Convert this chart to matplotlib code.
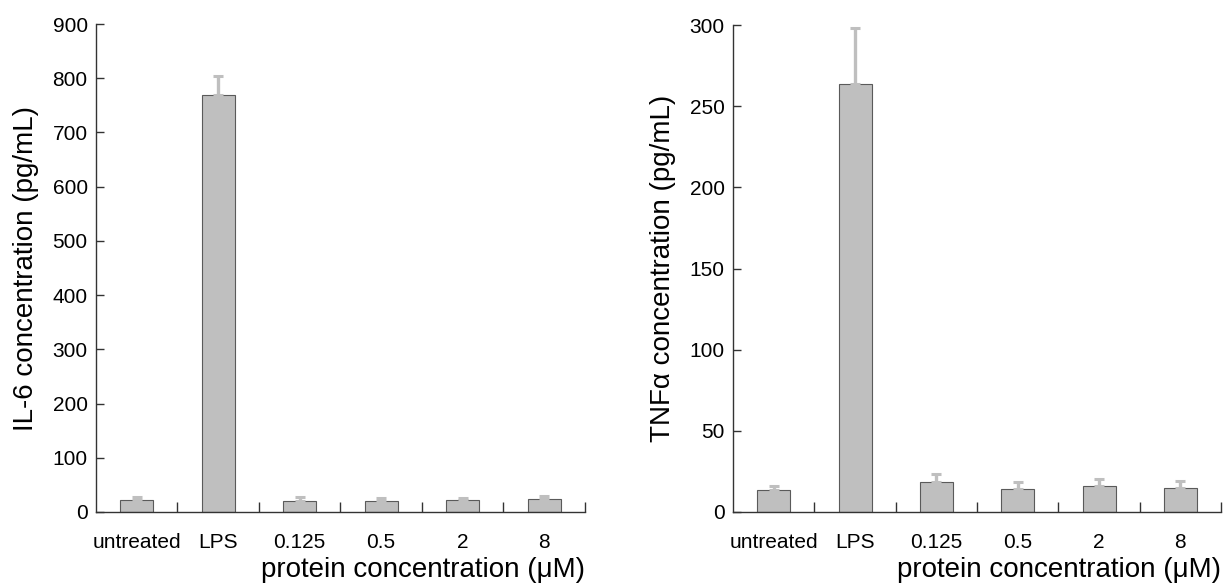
import matplotlib
matplotlib.use("Agg")
import matplotlib.pyplot as plt
import numpy as np

plt.rcParams['font.family'] = ['Liberation Sans', 'DejaVu Sans']

categories = ["untreated", "LPS", "0.125", "0.5", "2", "8"]
il6_values = [23, 770, 20, 20, 21.5, 24]
il6_err = [4.5, 35, 7, 5, 4.5, 6]
tnf_values = [13.8, 263.5, 18.3, 14.4, 16.3, 15]
tnf_err = [2.3, 35, 5.1, 4.3, 3.8, 4.1]

il6_yticks = [0, 100, 200, 300, 400, 500, 600, 700, 800, 900]
tnf_yticks = [0, 50, 100, 150, 200, 250, 300]

bar_color = "#bfbfbf"
edge_color = "#5a5a5a"
axis_color = "#333333"

fig = plt.figure(figsize=(12.26, 5.83), dpi=100)
ax1 = fig.add_axes([0.0783, 0.1218, 0.477 - 0.0783, 0.9588 - 0.1218])
ax2 = fig.add_axes([0.598, 0.1218, 0.996 - 0.598, 0.957 - 0.1218])

def draw(ax, vals, errs, yticks, ylabel):
    x = np.arange(len(categories))
    ax.bar(x, vals, width=0.405, color=bar_color, edgecolor=edge_color,
           linewidth=0.8, zorder=2)
    ax.errorbar(x, vals, yerr=[np.zeros(len(vals)), errs], fmt='none',
                ecolor=bar_color, elinewidth=2.4, capsize=3.3, capthick=2.2,
                zorder=3)
    ax.set_xlim(-0.5, len(categories) - 0.5)
    ax.set_ylim(yticks[0], yticks[-1])
    ax.set_yticks(yticks)
    ax.set_xticks(x)
    ax.set_xticklabels(categories)
    ax.set_xticks(np.arange(0.5, len(categories), 1.0), minor=True)
    ax.tick_params(axis='x', which='major', length=0, pad=15, labelsize=15)
    ax.tick_params(axis='x', which='minor', direction='in', length=7,
                   width=1, color=axis_color)
    ax.tick_params(axis='y', direction='in', length=6, width=1,
                   color=axis_color, labelsize=15, pad=6)
    for s in ['top', 'right']:
        ax.spines[s].set_visible(False)
    for s in ['left', 'bottom']:
        ax.spines[s].set_color(axis_color)
        ax.spines[s].set_linewidth(1)
    ax.set_ylabel(ylabel, fontsize=20, labelpad=10)
    ax.set_xlabel("protein concentration (\u03bcM)", fontsize=20,
                  loc='right', labelpad=4)

draw(ax1, il6_values, il6_err, il6_yticks, "IL-6 concentration (pg/mL)")
draw(ax2, tnf_values, tnf_err, tnf_yticks, "TNF\u03b1 concentration (pg/mL)")

fig.savefig("out.png", dpi=100)
